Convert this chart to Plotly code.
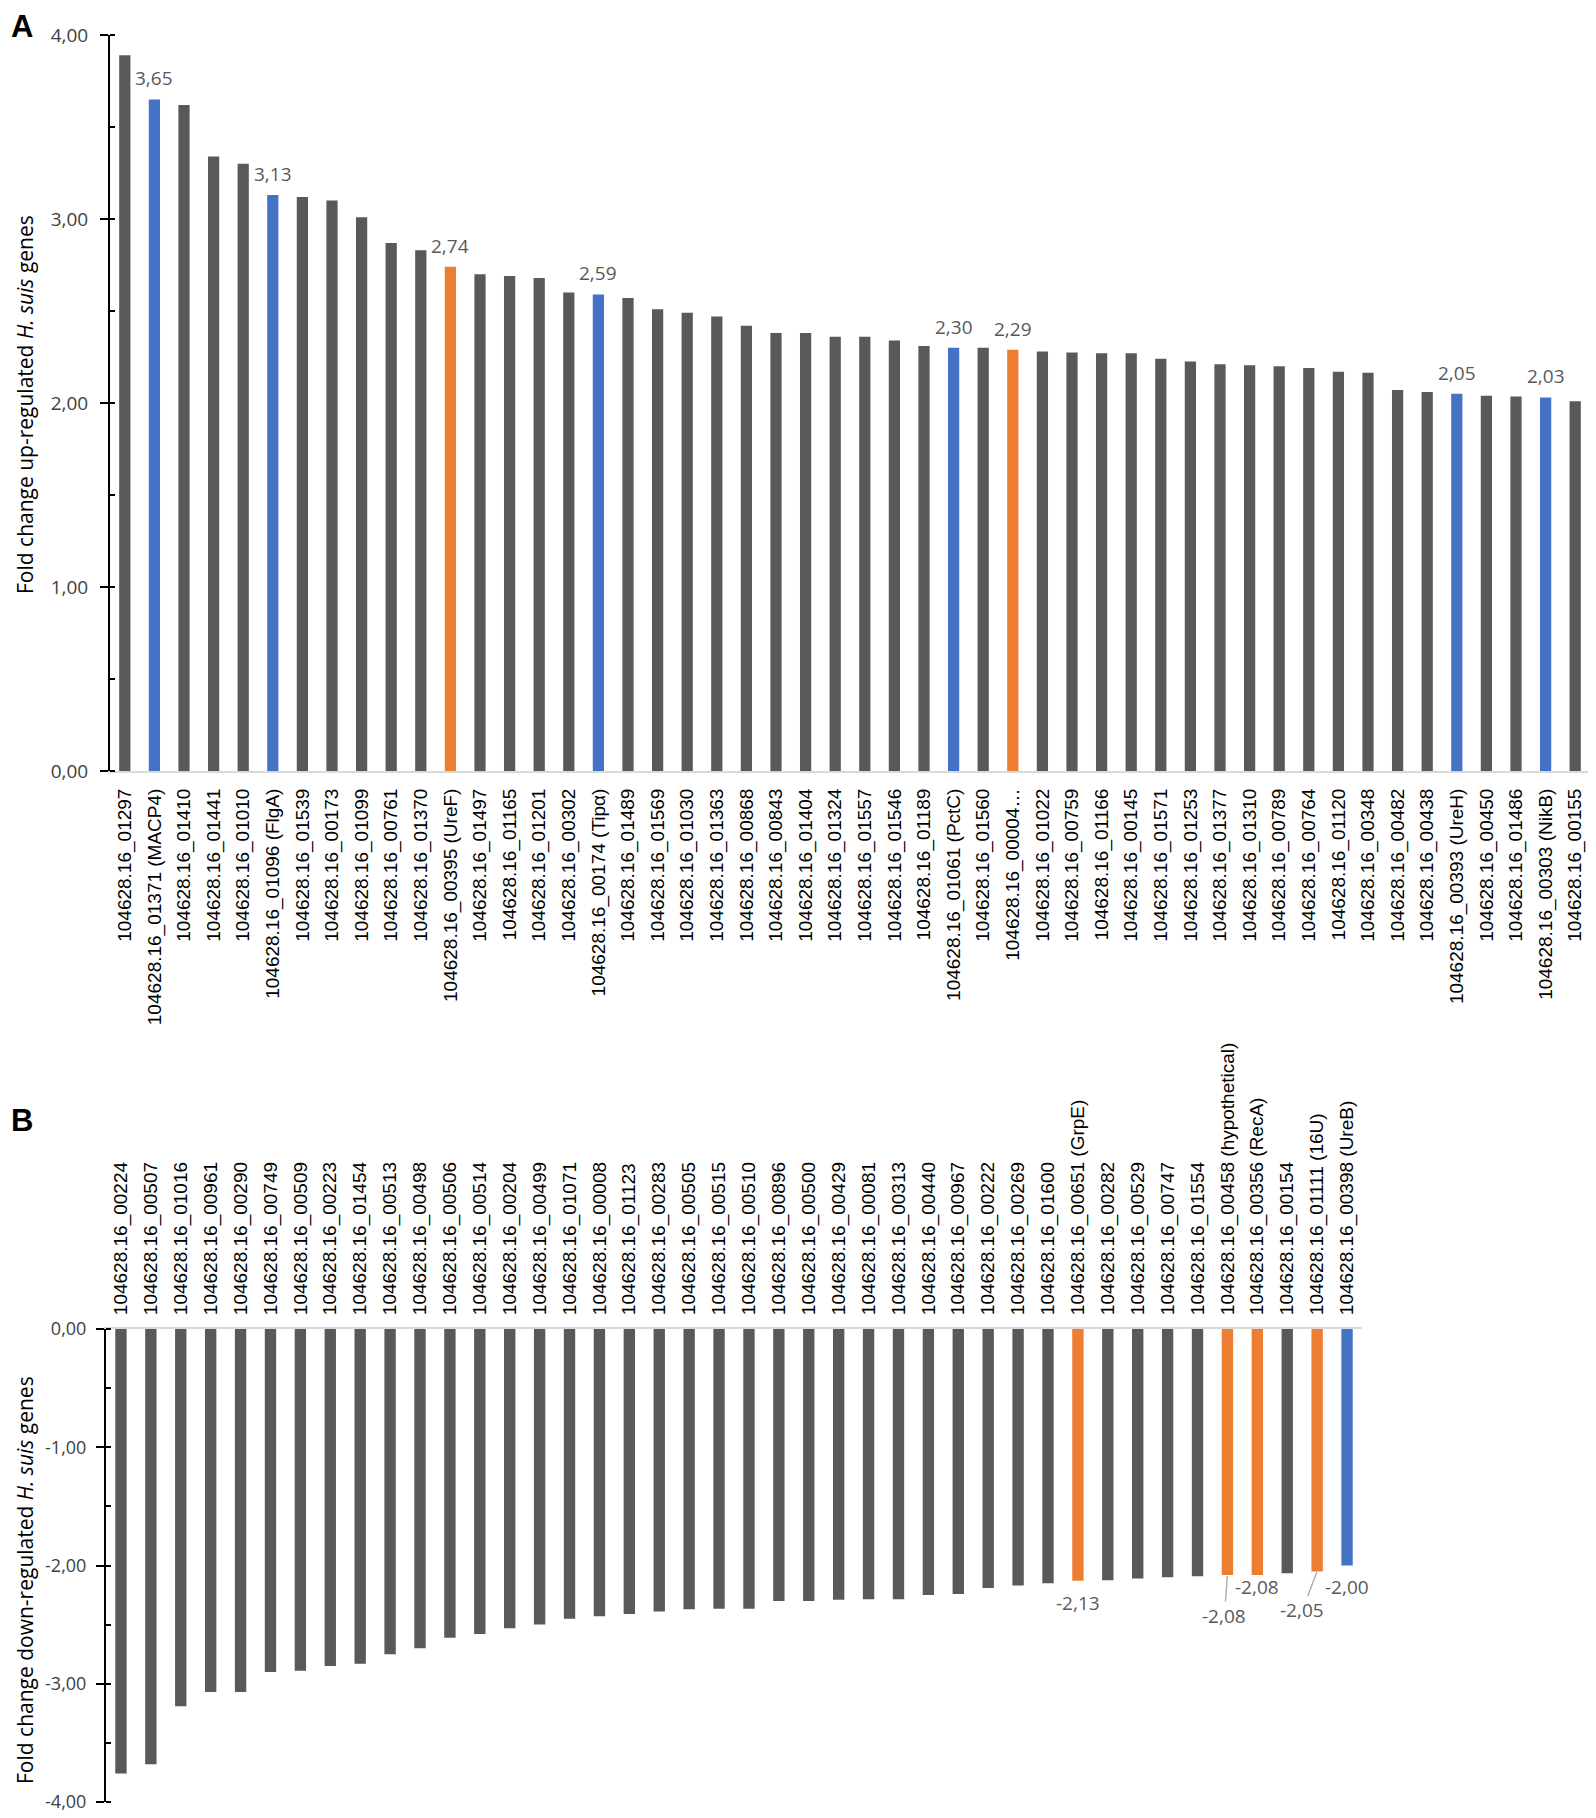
import plotly.graph_objects as go

# ---------------- DATA ----------------
a_genes = [
    "104628.16_01297", "104628.16_01371 (MACP4)", "104628.16_01410", "104628.16_01441",
    "104628.16_01010", "104628.16_01096 (FlgA)", "104628.16_01539", "104628.16_00173",
    "104628.16_01099", "104628.16_00761", "104628.16_01370", "104628.16_00395 (UreF)",
    "104628.16_01497", "104628.16_01165", "104628.16_01201", "104628.16_00302",
    "104628.16_00174 (Tipα)", "104628.16_01489", "104628.16_01569", "104628.16_01030",
    "104628.16_01363", "104628.16_00868", "104628.16_00843", "104628.16_01404",
    "104628.16_01324", "104628.16_01557", "104628.16_01546", "104628.16_01189",
    "104628.16_01061 (PctC)", "104628.16_01560", "104628.16_00004…", "104628.16_01022",
    "104628.16_00759", "104628.16_01166", "104628.16_00145", "104628.16_01571",
    "104628.16_01253", "104628.16_01377", "104628.16_01310", "104628.16_00789",
    "104628.16_00764", "104628.16_01120", "104628.16_00348", "104628.16_00482",
    "104628.16_00438", "104628.16_00393 (UreH)", "104628.16_00450", "104628.16_01486",
    "104628.16_00303 (NikB)", "104628.16_00155",
]
a_values = [
    3.89, 3.65, 3.62, 3.34, 3.30, 3.13, 3.12, 3.10, 3.01, 2.87,
    2.83, 2.74, 2.70, 2.69, 2.68, 2.60, 2.59, 2.57, 2.51, 2.49,
    2.47, 2.42, 2.38, 2.38, 2.36, 2.36, 2.34, 2.31, 2.30, 2.30,
    2.29, 2.28, 2.275, 2.27, 2.27, 2.24, 2.225, 2.21, 2.205, 2.20,
    2.19, 2.17, 2.165, 2.07, 2.06, 2.05, 2.04, 2.035, 2.03, 2.01,
]
# 0 = other gene, 1 = blue highlighted, 2 = orange highlighted
a_group = [
    0, 1, 0, 0, 0, 1, 0, 0, 0, 0,
    0, 2, 0, 0, 0, 0, 1, 0, 0, 0,
    0, 0, 0, 0, 0, 0, 0, 0, 1, 0,
    2, 0, 0, 0, 0, 0, 0, 0, 0, 0,
    0, 0, 0, 0, 0, 1, 0, 0, 1, 0,
]

b_genes = [
    "104628.16_00224", "104628.16_00507", "104628.16_01016", "104628.16_00961",
    "104628.16_00290", "104628.16_00749", "104628.16_00509", "104628.16_00223",
    "104628.16_01454", "104628.16_00513", "104628.16_00498", "104628.16_00506",
    "104628.16_00514", "104628.16_00204", "104628.16_00499", "104628.16_01071",
    "104628.16_00008", "104628.16_01123", "104628.16_00283", "104628.16_00505",
    "104628.16_00515", "104628.16_00510", "104628.16_00896", "104628.16_00500",
    "104628.16_00429", "104628.16_00081", "104628.16_00313", "104628.16_00440",
    "104628.16_00967", "104628.16_00222", "104628.16_00269", "104628.16_01600",
    "104628.16_00651 (GrpE)", "104628.16_00282", "104628.16_00529", "104628.16_00747",
    "104628.16_01554", "104628.16_00458 (hypothetical)", "104628.16_00356 (RecA)",
    "104628.16_00154", "104628.16_01111 (16U)", "104628.16_00398 (UreB)",
]
b_values = [
    -3.76, -3.68, -3.19, -3.07, -3.07, -2.90, -2.89, -2.85, -2.83, -2.75,
    -2.70, -2.61, -2.58, -2.53, -2.50, -2.45, -2.43, -2.41, -2.39, -2.37,
    -2.365, -2.365, -2.30, -2.30, -2.29, -2.285, -2.285, -2.25, -2.24, -2.19,
    -2.17, -2.15, -2.13, -2.125, -2.11, -2.10, -2.09, -2.08, -2.08, -2.065,
    -2.05, -2.00,
]
b_group = [
    0, 0, 0, 0, 0, 0, 0, 0, 0, 0,
    0, 0, 0, 0, 0, 0, 0, 0, 0, 0,
    0, 0, 0, 0, 0, 0, 0, 0, 0, 0,
    0, 0, 2, 0, 0, 0, 0, 2, 2, 0,
    2, 1,
]

a_ticks = [0, 1, 2, 3, 4]
b_ticks = [0, -1, -2, -3, -4]

# ---------------- STYLE ----------------
W, H = 1596, 1818
PAGE_OFF = 8  # default body margin of the HTML page
GROUP_COLORS = {0: "#595959", 1: "#4472C4", 2: "#ED7D31"}
LABEL_FONT = dict(family="Open Sans, Noto Sans, sans-serif", size=19, color="#595959")
XTICK_FONT = dict(family="Liberation Sans, Arial, sans-serif", size=19, color="#000000")


def fmt(v):
    return f"{v:.2f}".replace(".", ",")


def px_x(p):
    return (p - PAGE_OFF) / W


def px_y(p):
    return 1 - (p - PAGE_OFF) / H


fig = go.Figure()

fig.add_trace(go.Bar(
    x=a_genes, y=a_values, xaxis="x", yaxis="y",
    marker=dict(color=[GROUP_COLORS[g] for g in a_group], line=dict(width=0)),
    hoverinfo="x+y", showlegend=False,
))
fig.add_trace(go.Bar(
    x=b_genes, y=b_values, xaxis="x2", yaxis="y2",
    marker=dict(color=[GROUP_COLORS[g] for g in b_group], line=dict(width=0)),
    hoverinfo="x+y", showlegend=False,
))

annotations = []
# Panel A value labels above highlighted bars
for g, v, grp in zip(a_genes, a_values, a_group):
    if grp:
        annotations.append(dict(
            x=g, y=v, xref="x", yref="y", text=fmt(v), showarrow=False,
            yanchor="middle", yshift=21, font=LABEL_FONT,
        ))

# Panel B value labels below highlighted bars (Excel-like placement)
b_label_pos = {
    32: dict(kind="plain", dx=0, dy=-22),
    37: dict(kind="arrow", ax=-3, ay=41),
    38: dict(kind="plain", dx=0, dy=-12),
    40: dict(kind="arrow", ax=-15, ay=39),
    41: dict(kind="plain", dx=0, dy=-21),
}
for i, (g, v, grp) in enumerate(zip(b_genes, b_values, b_group)):
    if not grp:
        continue
    pos = b_label_pos.get(i, dict(kind="plain", dx=0, dy=-22))
    if pos["kind"] == "plain":
        annotations.append(dict(
            x=g, y=v, xref="x2", yref="y2", text=fmt(v), showarrow=False,
            yanchor="middle", xshift=pos["dx"], yshift=pos["dy"], font=LABEL_FONT,
        ))
    else:
        annotations.append(dict(
            x=g, y=v, xref="x2", yref="y2", text=fmt(v), showarrow=True,
            arrowhead=0, arrowwidth=1.3, arrowcolor="#A6A6A6",
            ax=pos["ax"], ay=pos["ay"], standoff=1, font=LABEL_FONT,
        ))

# Panel letters
LETTER_FONT = dict(family="Liberation Sans, Arial, sans-serif", size=31, color="#000")
annotations.append(dict(x=px_x(9), y=px_y(7), xref="paper", yref="paper", text="<b>A</b>",
                        showarrow=False, xanchor="left", yanchor="top", font=LETTER_FONT))
annotations.append(dict(x=px_x(9), y=px_y(1101), xref="paper", yref="paper", text="<b>B</b>",
                        showarrow=False, xanchor="left", yanchor="top", font=LETTER_FONT))

# Y axis titles
TITLE_FONT = dict(family="Open Sans, Noto Sans, sans-serif", size=21, color="#000000")
annotations.append(dict(x=px_x(9), y=px_y(405), xref="paper", yref="paper",
                        text="Fold change up-regulated <i>H. suis</i> genes", textangle=-90,
                        showarrow=False, xanchor="left", yanchor="middle", font=TITLE_FONT))
annotations.append(dict(x=px_x(9), y=px_y(1580), xref="paper", yref="paper",
                        text="Fold change down-regulated <i>H. suis</i> genes", textangle=-90,
                        showarrow=False, xanchor="left", yanchor="middle", font=TITLE_FONT))

ytick_font_a = dict(family="Open Sans, Noto Sans, sans-serif", size=19, color="#404040")
ytick_font_b = dict(family="Liberation Sans Narrow, Open Sans, sans-serif", size=18, color="#404040")

fig.update_layout(
    width=W, height=H,
    margin=dict(l=0, r=0, t=0, b=0, autoexpand=False),
    paper_bgcolor="white", plot_bgcolor="white",
    separators=", ",
    bargap=0.62,
    annotations=annotations,
    xaxis=dict(
        domain=[px_x(110), px_x(1590)], anchor="y", automargin=False,
        type="category", range=[-0.5, len(a_genes) - 0.5],
        tickangle=-90, tickfont=XTICK_FONT, ticks="", ticklabelstandoff=8,
        showline=True, linecolor="#D9D9D9", linewidth=2,
        showgrid=False, zeroline=False,
    ),
    yaxis=dict(
        domain=[px_y(771), px_y(35)], anchor="x", automargin=False,
        range=[0, 4], tickvals=a_ticks, ticktext=[fmt(t) for t in a_ticks],
        ticks="outside", ticklen=8, tickwidth=2, tickcolor="#000",
        minor=dict(ticks="inside", ticklen=5, tickwidth=1.5, tickcolor="#000", dtick=0.5),
        tickfont=ytick_font_a, ticklabelstandoff=8,
        showline=True, linecolor="#000", linewidth=2,
        showgrid=False, zeroline=False,
    ),
    xaxis2=dict(
        domain=[px_x(106), px_x(1362)], anchor="y2", side="top", automargin=False,
        type="category", range=[-0.5, len(b_genes) - 0.5],
        tickangle=-90, tickfont=XTICK_FONT, ticks="", ticklabelstandoff=8,
        showline=True, linecolor="#D9D9D9", linewidth=2,
        showgrid=False, zeroline=False,
    ),
    yaxis2=dict(
        domain=[px_y(1802), px_y(1329)], anchor="x2", automargin=False,
        range=[-4, 0], tickvals=b_ticks, ticktext=[fmt(t) for t in b_ticks],
        ticks="outside", ticklen=8, tickwidth=2, tickcolor="#000",
        minor=dict(ticks="inside", ticklen=5, tickwidth=1.5, tickcolor="#000", dtick=0.5),
        tickfont=ytick_font_b, ticklabelstandoff=6,
        showline=True, linecolor="#000", linewidth=2,
        showgrid=False, zeroline=False,
    ),
)

fig.write_html("out.html")
